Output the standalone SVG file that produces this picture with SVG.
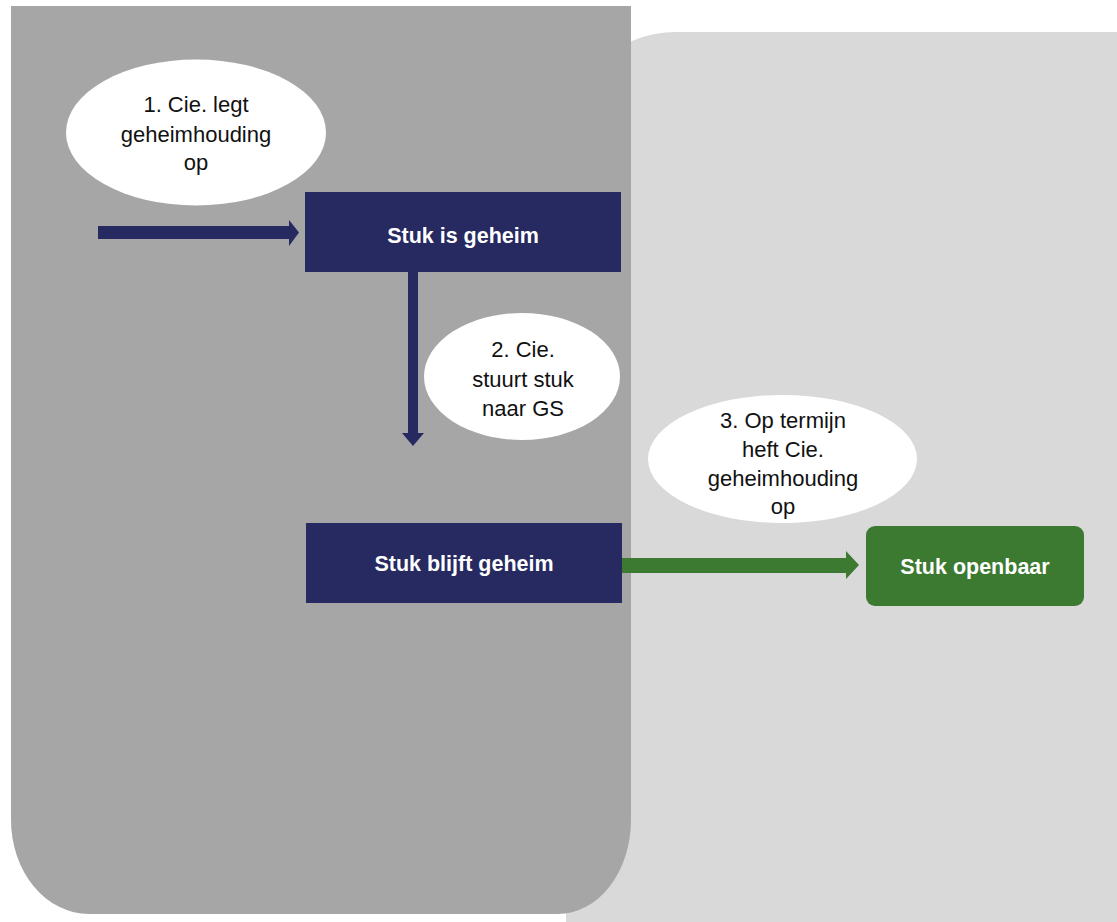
<svg xmlns="http://www.w3.org/2000/svg" width="1117" height="922" viewBox="0 0 1117 922">
<style>
.bubble{fill:#ffffff}
.lbl{font-family:"Liberation Sans",Arial,sans-serif;font-size:22px;fill:#111111;text-anchor:middle}
.box{fill:#262a60}
.boxg{fill:#3c7a32}
.btxt{font-family:"Liberation Sans",Arial,sans-serif;font-size:21.5px;font-weight:bold;fill:#ffffff;text-anchor:middle}
</style>
<rect x="0" y="0" width="1117" height="922" fill="#ffffff"/>
<g id="panel-light">
<path d="M566,922 V142 A110,110 0 0 1 676,32 H1117 V922 Z" fill="#d9d9d9"/>
</g>
<g id="panel-dark">
<path d="M11,6 H631 V820 A73,94 0 0 1 558,914 H89 A78,94 0 0 1 11,820 Z" fill="#a6a6a6"/>
</g>
<g id="connectors">
<path d="M98,226 H289 V220 L299,232.5 L289,246 V239 H98 Z" fill="#262a60"/>
<path d="M408,272 H418 V433 H424 L413,446 L402,433 H408 Z" fill="#262a60"/>
<path d="M622,558 H846 V551 L859,565 L846,579 V573 H622 Z" fill="#3c7a32"/>
</g>
<g id="bubble1">
<ellipse class="bubble" cx="196" cy="132.5" rx="130" ry="73"/>
<text class="lbl" x="196" y="112">1. Cie. legt</text>
<text class="lbl" x="196" y="142">geheimhouding</text>
<text class="lbl" x="196" y="170">op</text>
</g>
<g id="node-geheim">
<rect class="box" x="305" y="192" width="316" height="80"/>
<text class="btxt" x="463" y="243">Stuk is geheim</text>
</g>
<g id="bubble2">
<ellipse class="bubble" cx="522" cy="376.5" rx="98" ry="63.5"/>
<text class="lbl" x="523" y="357">2. Cie.</text>
<text class="lbl" x="523" y="387">stuurt stuk</text>
<text class="lbl" x="523" y="416">naar GS</text>
</g>
<g id="bubble3">
<ellipse class="bubble" cx="782.5" cy="459" rx="134.5" ry="64"/>
<text class="lbl" x="783" y="428">3. Op termijn</text>
<text class="lbl" x="783" y="457">heft Cie.</text>
<text class="lbl" x="783" y="486">geheimhouding</text>
<text class="lbl" x="783" y="514">op</text>
</g>
<g id="node-blijft">
<rect class="box" x="306" y="523" width="316" height="80"/>
<text class="btxt" x="464" y="571">Stuk blijft geheim</text>
</g>
<g id="node-openbaar">
<rect class="boxg" x="866" y="526" width="218" height="80" rx="9" ry="9"/>
<text class="btxt" x="975" y="574">Stuk openbaar</text>
</g>
</svg>
